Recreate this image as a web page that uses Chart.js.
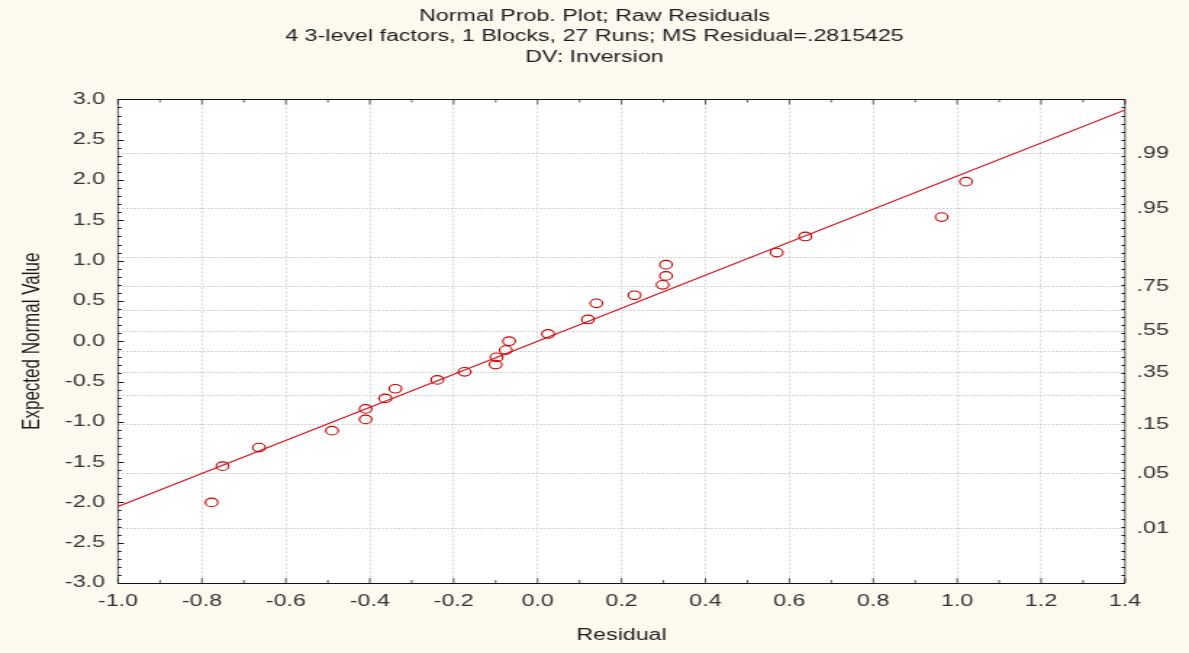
<!DOCTYPE html>
<html>
<head>
<meta charset="utf-8">
<title>Normal Prob. Plot; Raw Residuals</title>
<script src="https://cdn.jsdelivr.net/npm/chart.js@4.4.1/dist/chart.umd.min.js"></script>
<style>
  html, body { margin: 0; padding: 0; background: #fcf9ef; overflow: hidden; }
  /* the plot is drawn narrow and widened, like the old Statistica export */
  #wrap { width: 820px; height: 653px; transform: scaleX(1.45); transform-origin: 0 0; }
</style>
</head>
<body>
<div id="wrap"><canvas id="probPlot" width="820" height="653"></canvas></div>
<script>
// Raw residuals and their expected normal values
const residuals = [-0.777, -0.751, -0.664, -0.490, -0.410, -0.410, -0.363, -0.339, -0.239, -0.174,
                   -0.100, -0.098, -0.076, -0.068, 0.025, 0.120, 0.140, 0.231, 0.298, 0.306,
                   0.306, 0.570, 0.638, 0.963, 1.021];
const expectedNormal = [-2.00, -1.55, -1.32, -1.11, -0.97, -0.84, -0.71, -0.59, -0.48, -0.38,
                        -0.29, -0.20, -0.11, 0.00, 0.09, 0.27, 0.47, 0.57, 0.70, 0.81,
                        0.95, 1.10, 1.30, 1.54, 1.98];

// Reference line (end points at the axis limits)
const fitX = [-1.0, 1.4];
const fitY = [-2.05, 2.87];

// Axis ticks
const xTicks = [-1.0, -0.8, -0.6, -0.4, -0.2, 0.0, 0.2, 0.4, 0.6, 0.8, 1.0, 1.2, 1.4];
const yTicks = [-3.0, -2.5, -2.0, -1.5, -1.0, -0.5, 0.0, 0.5, 1.0, 1.5, 2.0, 2.5, 3.0];
// Right-hand probability scale: z-values of the cumulative probabilities and their labels
const probZ = [-2.326, -1.645, -1.036, -0.674, -0.385, -0.126, 0.126, 0.385, 0.674, 1.036, 1.645, 2.326];
const probLabels = ['.01', '.05', '.15', '', '.35', '', '.55', '', '.75', '', '.95', '.99'];

const titleLines = [
  'Normal Prob. Plot; Raw Residuals',
  '4 3-level factors, 1 Blocks, 27 Runs; MS Residual=.2815425',
  'DV: Inversion'
];

const SX = 1.45; // horizontal stretch of #wrap

Chart.defaults.font.family = "'Liberation Sans', Arial, sans-serif";

// white plot area, black frame and small inward tick marks
const plotFrame = {
  id: 'plotFrame',
  beforeDraw(chart) {
    const {ctx, chartArea: a} = chart;
    ctx.save();
    ctx.fillStyle = '#ffffff';
    ctx.fillRect(a.left, a.top, a.right - a.left, a.bottom - a.top);
    ctx.restore();
  },
  afterDraw(chart) {
    const {ctx, chartArea: a} = chart;
    const {x, y} = chart.scales;
    ctx.save();
    ctx.strokeStyle = '#111';

    // vertical strokes: thin so they stay 1px after stretching
    ctx.lineWidth = 1 / SX;
    ctx.beginPath();
    for (let i = -10; i <= 14; i++) {
      const px = x.getPixelForValue(i / 10);
      const len = i % 2 === 0 ? 5 : 3;
      ctx.moveTo(px, a.bottom); ctx.lineTo(px, a.bottom - len);
      ctx.moveTo(px, a.top); ctx.lineTo(px, a.top + len);
    }
    ctx.moveTo(a.left, a.top); ctx.lineTo(a.left, a.bottom);
    ctx.moveTo(a.right, a.top); ctx.lineTo(a.right, a.bottom);
    ctx.stroke();

    // horizontal strokes
    ctx.lineWidth = 1;
    ctx.beginPath();
    for (let i = -30; i <= 30; i++) {
      const py = Math.round(y.getPixelForValue(i / 10)) + 0.5;
      const lenL = i % 5 === 0 ? 4 : 2.4;
      ctx.moveTo(a.left, py); ctx.lineTo(a.left + lenL, py);
      ctx.moveTo(a.right, py); ctx.lineTo(a.right - 2.4, py);
    }
    ctx.moveTo(a.left, Math.round(a.top) + 0.5); ctx.lineTo(a.right, Math.round(a.top) + 0.5);
    ctx.moveTo(a.left, Math.round(a.bottom) + 0.5); ctx.lineTo(a.right, Math.round(a.bottom) + 0.5);
    ctx.stroke();
    ctx.restore();
  }
};

const tickFont = {size: 16};
const tickColor = '#333333';

new Chart(document.getElementById('probPlot'), {
  type: 'scatter',
  data: {
    datasets: [
      {
        type: 'scatter',
        data: residuals.map((r, i) => ({x: r, y: expectedNormal[i]})),
        pointStyle: 'circle',
        pointRadius: 4.3,
        pointBorderWidth: 1.1,
        pointBorderColor: '#c80000',
        pointBackgroundColor: 'rgba(0,0,0,0)',
        order: 1
      },
      {
        type: 'line',
        data: fitX.map((v, i) => ({x: v, y: fitY[i]})),
        borderColor: '#d4101c',
        borderWidth: 1.2,
        pointRadius: 0,
        fill: false,
        order: 2
      }
    ]
  },
  options: {
    responsive: false,
    animation: false,
    events: [],
    layout: {padding: 0},
    plugins: {
      legend: {display: false},
      tooltip: {enabled: false},
      title: {
        display: true,
        text: titleLines,
        color: '#1c1c1c',
        font: {size: 16, weight: 'normal', lineHeight: 1.28},
        padding: {top: 6, bottom: 32}
      }
    },
    scales: {
      x: {
        type: 'linear',
        position: 'bottom',
        min: -1.0,
        max: 1.4,
        afterBuildTicks: axis => { axis.ticks = xTicks.map(v => ({value: v})); },
        afterFit: axis => { axis.height = 70; },
        ticks: {
          font: tickFont,
          color: tickColor,
          padding: 9,
          maxRotation: 0,
          autoSkip: false,
          callback: v => (Math.abs(v) < 1e-9 ? 0 : v).toFixed(1)
        },
        grid: {color: '#c2c2c2', lineWidth: 1 / SX, drawTicks: false},
        border: {display: false, dash: [2, 2]},
        title: {
          display: true,
          text: 'Residual',
          color: '#1c1c1c',
          font: {size: 16},
          padding: {top: 0, bottom: 8}
        }
      },
      y: {
        type: 'linear',
        position: 'left',
        min: -3.0,
        max: 3.0,
        afterBuildTicks: axis => { axis.ticks = yTicks.map(v => ({value: v})); },
        afterFit: axis => { axis.width = 118 / SX; },
        ticks: {
          font: tickFont,
          color: tickColor,
          padding: 9,
          autoSkip: false,
          callback: v => (Math.abs(v) < 1e-9 ? 0 : v).toFixed(1)
        },
        grid: {display: false, drawTicks: false},
        border: {display: false},
        title: {
          display: true,
          text: 'Expected Normal Value',
          color: '#1c1c1c',
          font: {size: 17},
          padding: {top: 12, bottom: 0}
        }
      },
      y2: {
        type: 'linear',
        position: 'right',
        min: -3.0,
        max: 3.0,
        afterBuildTicks: axis => { axis.ticks = probZ.map(v => ({value: v})); },
        afterFit: axis => { axis.width = 820 - 1125 / SX; },
        ticks: {
          font: tickFont,
          color: tickColor,
          padding: 8,
          autoSkip: false,
          callback: (v, i) => probLabels[i]
        },
        grid: {color: '#c8c8c8', lineWidth: 1, drawTicks: false},
        border: {display: false, dash: [1.4, 1.4]}
      }
    }
  },
  plugins: [plotFrame]
});
</script>
</body>
</html>
